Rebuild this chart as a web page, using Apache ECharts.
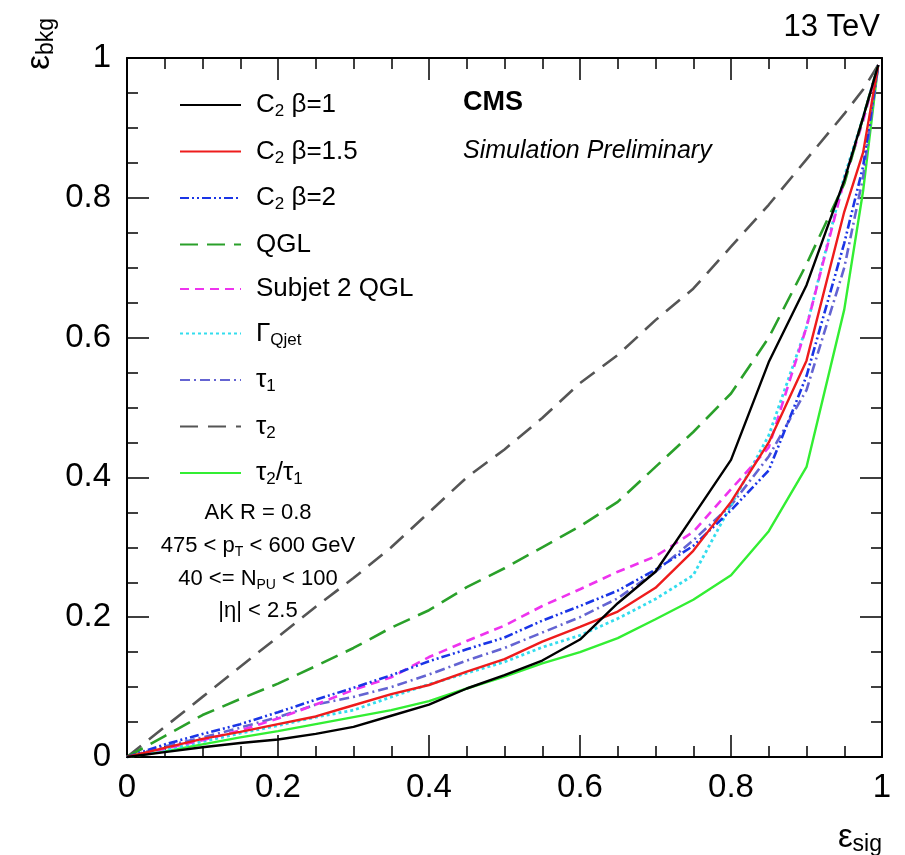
<!DOCTYPE html>
<html>
<head>
<meta charset="utf-8">
<script src="https://cdn.jsdelivr.net/npm/echarts@6/dist/echarts.min.js"></script>
<style>html,body{margin:0;padding:0;background:#fff}#c{width:905px;height:855px}</style>
</head>
<body>
<div id="c"></div>
<script>
// ---- data ----
const effSig = [0,0.05,0.1,0.15,0.2,0.25,0.3,0.35,0.4,0.45,0.5,0.55,0.6,0.65,0.7,0.75,0.8,0.85,0.9,0.95,0.975,0.995];
const c2b1   = [0,0.007,0.014,0.020,0.025,0.033,0.043,0.059,0.075,0.098,0.117,0.138,0.168,0.220,0.265,0.345,0.425,0.565,0.675,0.825,0.915,0.99];
const c2b15  = [0,0.013,0.026,0.036,0.047,0.058,0.074,0.090,0.103,0.122,0.140,0.165,0.186,0.208,0.242,0.295,0.365,0.450,0.567,0.780,0.865,0.99];
const c2b2   = [0,0.018,0.033,0.047,0.064,0.082,0.099,0.117,0.137,0.154,0.171,0.195,0.216,0.238,0.268,0.302,0.353,0.410,0.545,0.735,0.845,0.99];
const qgl    = [0,0.030,0.060,0.083,0.105,0.130,0.156,0.185,0.210,0.243,0.270,0.300,0.330,0.365,0.415,0.465,0.520,0.600,0.705,0.820,0.915,0.99];
const sub2qgl= [0,0.012,0.024,0.038,0.055,0.075,0.096,0.114,0.143,0.166,0.188,0.216,0.240,0.265,0.287,0.322,0.383,0.443,0.615,0.825,0.910,0.99];
const gQjet  = [0,0.010,0.022,0.034,0.045,0.057,0.067,0.086,0.104,0.120,0.136,0.157,0.174,0.198,0.226,0.260,0.360,0.460,0.615,0.830,0.915,0.99];
const tau1   = [0,0.015,0.028,0.042,0.057,0.075,0.086,0.100,0.118,0.138,0.156,0.178,0.200,0.227,0.265,0.310,0.360,0.430,0.525,0.700,0.830,0.99];
const tau2   = [0,0.043,0.086,0.129,0.172,0.215,0.256,0.300,0.350,0.400,0.440,0.485,0.535,0.575,0.625,0.670,0.730,0.790,0.855,0.920,0.955,0.99];
const tau21  = [0,0.008,0.018,0.028,0.037,0.047,0.057,0.067,0.080,0.098,0.115,0.134,0.150,0.170,0.197,0.225,0.260,0.323,0.415,0.640,0.810,0.99];

const seriesNames = ['C2 b1','C2 b1.5','C2 b2','QGL','Subjet 2 QGL','GammaQjet','tau1','tau2','tau2/tau1'];
const legendLabels = {
  'C2 b1': '{g|}{n|C}{s|2}{n| β=1}',
  'C2 b1.5': '{g|}{n|C}{s|2}{n| β=1.5}',
  'C2 b2': '{g|}{n|C}{s|2}{n| β=2}',
  'QGL': '{g|}{n|QGL}',
  'Subjet 2 QGL': '{g|}{n|Subjet 2 QGL}',
  'GammaQjet': '{g|}{n|Γ}{s|Qjet}',
  'tau1': '{g|}{n|τ}{s|1}',
  'tau2': '{g|}{n|τ}{s|2}',
  'tau2/tau1': '{g|}{n|τ}{s|2}{n|/τ}{s|1}'
};
const tickValues = [0,0.2,0.4,0.6,0.8,1];

// ---- styles ----
const styles = [
  {color:'#000000', type:'solid', width:2.4},
  {color:'#ee1c1c', type:'solid', width:2.4},
  {color:'#1a35e6', type:[9,3,2,3,2,3], width:2.6},
  {color:'#2aa02a', type:[18,9], width:2.6},
  {color:'#ee33ee', type:[9,6], width:2.6},
  {color:'#33ddee', type:[3,3], width:2.8},
  {color:'#6464d2', type:[10,4,2,4], width:2.6},
  {color:'#555555', type:[18,10], width:2.6},
  {color:'#33ee33', type:'solid', width:2.4}
];
const dataArrays = [c2b1,c2b15,c2b2,qgl,sub2qgl,gQjet,tau1,tau2,tau21];

function pairs(ys){ return effSig.map((x,i)=>[x,ys[i]]); }

const series = seriesNames.map((name,i)=>({
  name: name, type:'line', data: pairs(dataArrays[i]),
  xAxisIndex:0, yAxisIndex:0,
  showSymbol:false, symbol:'none', smooth:false, animation:false,
  lineStyle:{color:styles[i].color, type:styles[i].type, width:styles[i].width},
  itemStyle:{color:styles[i].color},
  z: 10 - i
}));

const FONT = 'Liberation Sans, Arial, Helvetica, sans-serif';

function axisCommon(showLabel, isX){
  return {
    type:'value', min:0, max:1, interval:0.2,
    axisLine:{show:true, onZero:false, lineStyle:{color:'#000', width:2}},
    axisTick:{show:true, inside:true, length:22, lineStyle:{color:'#000', width:1.5}},
    minorTick:{show:true, splitNumber:4, length:11, lineStyle:{color:'#000', width:1.5}},
    splitLine:{show:false},
    axisLabel:{show:showLabel, color:'#000', fontSize:33, fontFamily:FONT,
      margin: isX ? 14 : 16,
      formatter: v => (Math.abs(v-1)<1e-9 ? '1' : (Math.abs(v)<1e-9 ? '0' : v.toFixed(1)))
    }
  };
}

const chart = echarts.init(document.getElementById('c'), null, {renderer:'canvas'});
chart.setOption({
  backgroundColor:'#ffffff',
  animation:false,
  grid:{left:127, right:23, top:58, bottom:98, containLabel:false},
  xAxis:[Object.assign(axisCommon(true,true),{position:'bottom'}),
         Object.assign(axisCommon(false,true),{position:'top'})],
  yAxis:[Object.assign(axisCommon(true,false),{position:'left'}),
         Object.assign(axisCommon(false,false),{position:'right'})],
  legend:{
    show:true,
    orient:'vertical', left:174, top:87,
    itemWidth:61, itemHeight:2, itemGap:18.5,
    itemStyle:{opacity:0},
    data: seriesNames,
    formatter: n => legendLabels[n],
    textStyle:{color:'#000', fontFamily:FONT, fontSize:26,
      rich:{
        g:{width:10},
        n:{fontSize:26, fontFamily:FONT, color:'#000', lineHeight:30, verticalAlign:'middle'},
        s:{fontSize:17, fontFamily:FONT, color:'#000', lineHeight:14, verticalAlign:'bottom'}
      }
    }
  },
  graphic:[
    {type:'text', right:25, top:12, style:{text:'13 TeV', font:'31px '+FONT, fill:'#000'}},
    {type:'text', x:463, y:89, style:{text:'CMS', font:'bold 27px '+FONT, fill:'#000'}},
    {type:'text', x:463, y:139, style:{text:'Simulation Preliminary', font:'italic 25px '+FONT, fill:'#000'}},
    {type:'text', x:258, y:513, style:{text:'AK R = 0.8', font:'22px '+FONT, fill:'#000', align:'center', verticalAlign:'middle'}},
    {type:'text', x:258, y:546, style:{text:'{n|475 < p}{s|T}{n| < 600 GeV}', align:'center', verticalAlign:'middle',
       rich:{n:{fontSize:22, fontFamily:FONT, fill:'#000', lineHeight:26, verticalAlign:'middle'}, s:{fontSize:14, fontFamily:FONT, fill:'#000', lineHeight:12, verticalAlign:'bottom'}}}},
    {type:'text', x:258, y:579, style:{text:'{n|40 <= N}{s|PU}{n| < 100}', align:'center', verticalAlign:'middle',
       rich:{n:{fontSize:22, fontFamily:FONT, fill:'#000', lineHeight:26, verticalAlign:'middle'}, s:{fontSize:14, fontFamily:FONT, fill:'#000', lineHeight:12, verticalAlign:'bottom'}}}},
    {type:'text', x:258, y:611, style:{text:'|η| < 2.5', font:'22px '+FONT, fill:'#000', align:'center', verticalAlign:'middle'}},
    {type:'text', x:882, y:838, style:{text:'{n|ε}{s|sig}', align:'right', verticalAlign:'middle',
       rich:{n:{fontSize:33, fontFamily:FONT, fill:'#000', lineHeight:36, verticalAlign:'middle'}, s:{fontSize:23, fontFamily:FONT, fill:'#000', lineHeight:20, verticalAlign:'bottom'}}}},
    {type:'text', x:40, y:18, rotation:Math.PI/2, style:{text:'{n|ε}{s|bkg}', align:'right', verticalAlign:'middle',
       rich:{n:{fontSize:33, fontFamily:FONT, fill:'#000', lineHeight:36, verticalAlign:'middle'}, s:{fontSize:23, fontFamily:FONT, fill:'#000', lineHeight:20, verticalAlign:'bottom'}}}}
  ],
  series: series
});
</script>
</body>
</html>
